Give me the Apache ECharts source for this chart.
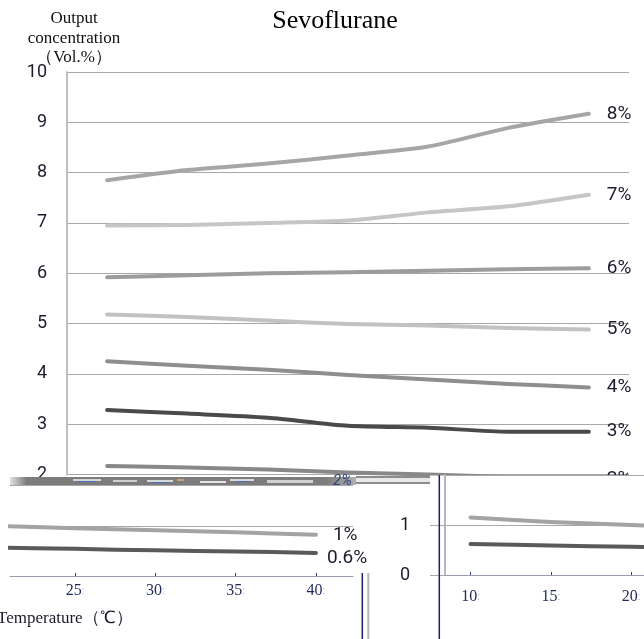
<!DOCTYPE html>
<html>
<head>
<meta charset="utf-8">
<script src="https://cdn.jsdelivr.net/npm/echarts@6/dist/echarts.min.js"></script>
<style>
  html, body { margin: 0; padding: 0; background: #ffffff; }
  #chart { width: 644px; height: 639px; }
</style>
</head>
<body>
<div id="chart"></div>
<script>
// Output concentration of a sevoflurane vaporizer against temperature, one line per dial setting
const temperatures = [10, 15, 20, 25, 30, 35, 40];
const dialSettings = ['8%', '7%', '6%', '5%', '4%', '3%', '2%', '1%', '0.6%'];
const sevo8 = [7.85, 8.05, 8.18, 8.34, 8.52, 8.89, 9.17];
const sevo7 = [6.95, 6.96, 7.00, 7.05, 7.21, 7.33, 7.56];
const sevo6 = [5.92, 5.96, 6.00, 6.02, 6.05, 6.08, 6.10];
const sevo5 = [5.18, 5.13, 5.06, 4.99, 4.96, 4.91, 4.88];
const sevo4 = [4.25, 4.16, 4.08, 3.98, 3.89, 3.80, 3.73];
const sevo3 = [3.28, 3.21, 3.13, 2.97, 2.93, 2.85, 2.85];
const sevo2 = [2.17, 2.14, 2.10, 2.04, 2.00, 1.95, 1.90];
const sevo1 = [1.15, 1.06, 1.00, 0.95, 0.91, 0.87, 0.82];
const sevo06 = [0.62, 0.59, 0.565, 0.54, 0.51, 0.49, 0.46];
const lowerLeftTicks = [25, 30, 35, 40];
const lowerRightTicks = [10, 15, 20];

const upperValues = [sevo8, sevo7, sevo6, sevo5, sevo4, sevo3, sevo2];
const lowerValues = [sevo1, sevo06];
const upperColors = ['#a6a6a6', '#c6c6c6', '#9c9c9c', '#c2c2c2', '#8e8e8e', '#4a4a4a', '#888888'];
const lowerColors = ['#a3a3a3', '#5a5a5a'];

const labelInk = '#1c1c2e';
const sansFont = 'Roboto';
const serifFont = 'Liberation Serif';
const gridInk = '#a8a8a8';

const pairs = vals => temperatures.map((t, i) => [t, vals[i]]);

const tempLabel = v => '{n|' + v + '}{g|:}';
const tempRich = {
  n: { fontSize: 16, fontFamily: serifFont, color: '#1f2a5a' },
  g: { fontSize: 11, fontFamily: sansFont, color: '#b4b4c6' }
};

const series = [];
upperValues.forEach((vals, i) => {
  series.push({
    name: dialSettings[i],
    type: 'line',
    xAxisIndex: 0, yAxisIndex: 0,
    data: vals,
    smooth: 0.25,
    symbol: 'none',
    clip: false,
    z: 2,
    lineStyle: { width: 4, color: upperColors[i], cap: 'round', join: 'round' },
    endLabel: {
      show: true, formatter: '{a}', distance: 18,
      fontSize: 19, fontFamily: sansFont, color: labelInk
    }
  });
});
lowerValues.forEach((vals, i) => {
  const name = dialSettings[7 + i];
  series.push({
    name: name,
    type: 'line',
    xAxisIndex: 1, yAxisIndex: 1,
    data: pairs(vals),
    smooth: 0.25,
    symbol: 'none',
    z: 20,
    lineStyle: { width: 4, color: lowerColors[i], cap: 'round', join: 'round' },
    endLabel: {
      show: true, formatter: '{a}',
      distance: i === 0 ? 17 : 11,
      offset: i === 0 ? [0, 0] : [0, 5],
      fontSize: 19, fontFamily: sansFont, color: labelInk
    }
  });
  series.push({
    name: name,
    type: 'line',
    xAxisIndex: 2, yAxisIndex: 2,
    data: pairs(vals),
    smooth: 0.25,
    symbol: 'none',
    z: 20,
    lineStyle: { width: 4, color: lowerColors[i], cap: 'round', join: 'round' }
  });
});

const option = {
  animation: false,
  backgroundColor: '#ffffff',
  grid: [
    { left: 67, right: 15, top: 72, height: 402.5 },
    { left: 10, width: 343, top: 485, bottom: 63 },
    { left: 445, right: 0, top: 475, bottom: 64 }
  ],
  xAxis: [
    { gridIndex: 0, type: 'category', data: temperatures, boundaryGap: true, show: false },
    {
      gridIndex: 1, type: 'value', min: 20.95, max: 42.31, z: 20,
      axisLine: { show: true, lineStyle: { color: '#9a9aaa', width: 1 } },
      axisTick: { show: true, inside: true, length: 3, customValues: lowerLeftTicks,
                  lineStyle: { color: '#2a3a8a', width: 1 } },
      axisLabel: { customValues: lowerLeftTicks, margin: 7, formatter: tempLabel, rich: tempRich },
      splitLine: { show: false }
    },
    {
      gridIndex: 2, type: 'value', min: 8.41, max: 20.81, z: 20,
      axisLine: { show: true, lineStyle: { color: '#9a9aaa', width: 1 } },
      axisTick: { show: true, inside: true, length: 3, customValues: lowerRightTicks,
                  lineStyle: { color: '#2a3a8a', width: 1 } },
      axisLabel: { customValues: lowerRightTicks, margin: 14, formatter: tempLabel, rich: tempRich },
      splitLine: { show: false }
    }
  ],
  yAxis: [
    {
      gridIndex: 0, type: 'value', min: 2, max: 10, interval: 1,
      axisLine: { show: true, lineStyle: { color: '#c0c0c0', width: 2 } },
      axisTick: { show: false },
      axisLabel: { margin: 20, fontSize: 18, fontFamily: sansFont, color: labelInk },
      splitLine: { show: true, lineStyle: { color: gridInk, width: 1 } }
    },
    {
      gridIndex: 1, type: 'value', min: 0, max: 1.811, interval: 1, z: 20,
      axisLine: { show: false }, axisTick: { show: false }, axisLabel: { show: false },
      splitLine: { show: true, lineStyle: { color: gridInk, width: 1 } }
    },
    {
      gridIndex: 2, type: 'value', min: 0, max: 2, interval: 1, z: 20,
      axisLine: { show: true, lineStyle: { color: '#b8b8b8', width: 2 } },
      axisTick: { show: true, inside: false, length: 15, lineStyle: { color: gridInk, width: 1 } },
      axisLabel: { margin: 35, fontSize: 18, fontFamily: sansFont, color: labelInk, showMaxLabel: false },
      splitLine: { show: true, lineStyle: { color: gridInk, width: 1 } }
    }
  ],
  graphic: [
    // title and axis captions
    { type: 'text', z: 40, x: 335, y: 21,
      style: { text: 'Sevoflurane', font: '26px "Liberation Serif"', fill: '#000',
               textAlign: 'center', textVerticalAlign: 'middle' } },
    { type: 'text', z: 40, x: 74, y: 9,
      style: { text: 'Output\nconcentration\n（Vol.%）', font: '17px "Liberation Serif"',
               lineHeight: 19.5, fill: '#111', textAlign: 'center', textVerticalAlign: 'top' } },
    { type: 'text', z: 40, x: -3, y: 619,
      style: { text: 'Temperature（℃）', font: '17px "Liberation Serif"', fill: '#1a1a2a',
               textAlign: 'left', textVerticalAlign: 'middle' } },
    // blank panel under the lower-right inset
    { type: 'rect', z: 10, shape: { x: 430, y: 475.5, width: 214, height: 164 },
      style: { fill: '#ffffff' } },
    // separator lines between the panels
    { type: 'line', z: 40, shape: { x1: 439.3, y1: 475, x2: 439.3, y2: 639 },
      style: { stroke: '#1c1f6e', lineWidth: 1.5 } },
    { type: 'line', z: 40, shape: { x1: 362.3, y1: 573, x2: 362.3, y2: 639 },
      style: { stroke: '#1c1f6e', lineWidth: 1.5 } },
    { type: 'line', z: 40, shape: { x1: 368.3, y1: 573, x2: 368.3, y2: 639 },
      style: { stroke: '#b4b4b4', lineWidth: 2 } },
    // torn strip along the panel seam
    { type: 'rect', z: 30, shape: { x: 10, y: 477, width: 16, height: 8 },
      style: { fill: new echarts.graphic.LinearGradient(0, 0, 1, 0,
        [{ offset: 0, color: '#e2e2e2' }, { offset: 1, color: '#808080' }]) } },
    { type: 'rect', z: 30, shape: { x: 26, y: 477, width: 300, height: 8 }, style: { fill: '#7c7c7c' } },
    { type: 'rect', z: 30, shape: { x: 326, y: 477, width: 30, height: 8 },
      style: { fill: new echarts.graphic.LinearGradient(0, 0, 1, 0,
        [{ offset: 0, color: '#7c7c7c' }, { offset: 1, color: '#b0b0b0' }]) } },
    { type: 'rect', z: 31, shape: { x: 73, y: 479, width: 28, height: 2 }, style: { fill: '#d6d6d6' } },
    { type: 'rect', z: 31, shape: { x: 78, y: 481, width: 18, height: 1 }, style: { fill: '#4d6fb8' } },
    { type: 'rect', z: 31, shape: { x: 113, y: 480, width: 24, height: 2 }, style: { fill: '#cfcfcf' } },
    { type: 'rect', z: 31, shape: { x: 147, y: 480, width: 26, height: 2 }, style: { fill: '#d9d9d9' } },
    { type: 'rect', z: 31, shape: { x: 152, y: 482, width: 18, height: 1 }, style: { fill: '#4d6fb8' } },
    { type: 'rect', z: 31, shape: { x: 177, y: 479, width: 7, height: 2 }, style: { fill: '#c9a27a' } },
    { type: 'rect', z: 31, shape: { x: 200, y: 481, width: 26, height: 2 }, style: { fill: '#e4e4e4' } },
    { type: 'rect', z: 31, shape: { x: 230, y: 479, width: 24, height: 2 }, style: { fill: '#dadada' } },
    { type: 'rect', z: 31, shape: { x: 236, y: 481, width: 14, height: 1 }, style: { fill: '#4d6fb8' } },
    { type: 'rect', z: 31, shape: { x: 267, y: 480, width: 46, height: 3 }, style: { fill: '#d2d2d2' } },
    { type: 'rect', z: 30, shape: { x: 356, y: 476, width: 74, height: 2 }, style: { fill: '#8c8c8c' } },
    { type: 'rect', z: 30, shape: { x: 356, y: 478, width: 74, height: 4 }, style: { fill: '#e8e8e8' } },
    { type: 'rect', z: 30, shape: { x: 356, y: 482, width: 74, height: 2 }, style: { fill: '#8c8c8c' } },
    { type: 'text', z: 32, x: 333, y: 481,
      style: { text: '2%', font: 'italic 15px Roboto', fill: '#2b3f7a',
               textAlign: 'left', textVerticalAlign: 'middle' } }
  ],
  series: series
};

const chart = echarts.init(document.getElementById('chart'), null, { renderer: 'canvas' });
chart.setOption(option);
</script>
</body>
</html>
